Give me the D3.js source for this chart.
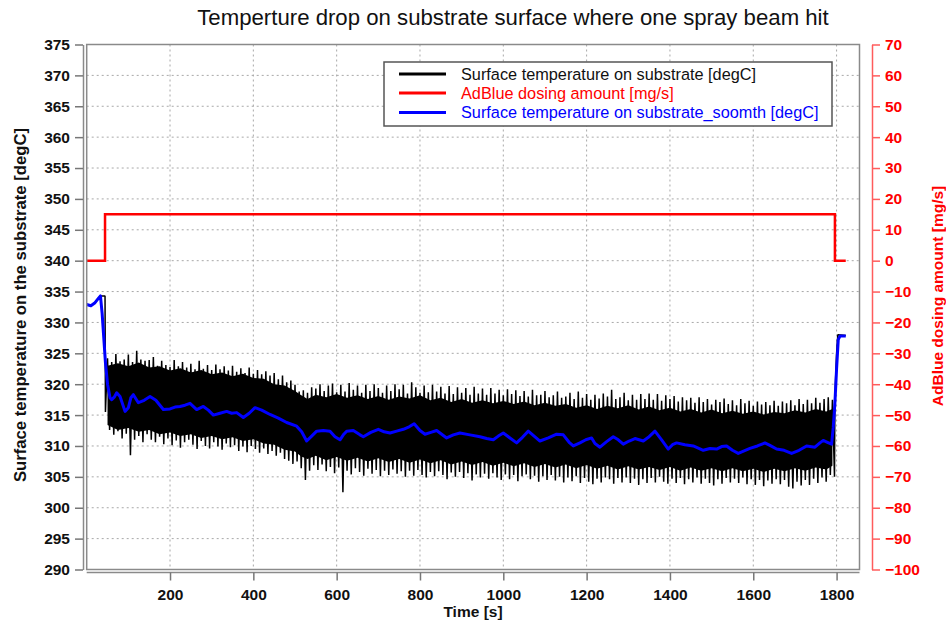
<!DOCTYPE html>
<html>
<head>
<meta charset="utf-8">
<script src="https://cdn.jsdelivr.net/npm/d3@7"></script>
<style>
  body { margin: 0; background: #fff; }
  svg { font-family: "Liberation Sans", Arial, sans-serif; }
  .tick line { stroke-width: 1.5; }
</style>
</head>
<body>
<script>
// ---- data ----
var titulo = 'Temperture drop on substrate surface where one spray beam hit'
var nombresSeries = ['Surface temperature on substrate [degC]',
                     'AdBlue dosing amount [mg/s]',
                     'Surface temperature on substrate_soomth [degC]']

var ticksX = [200, 400, 600, 800, 1000, 1200, 1400, 1600, 1800]
var ticksIzq = [290, 295, 300, 305, 310, 315, 320, 325, 330, 335, 340, 345, 350, 355, 360, 365, 370, 375]
var ticksDcho = [-100, -90, -80, -70, -60, -50, -40, -30, -20, -10, 0, 10, 20, 30, 40, 50, 60, 70]

// AdBlue dosing (right axis)
var dosisT = [0, 44, 44, 1796, 1796, 1822]
var dosisV = [0, 0, 15, 15, 0, 0]

// smoothed temperature
var suaveT = [0, 10, 20, 28, 33, 37, 41, 45, 50, 56, 60, 66, 72, 80, 92, 100, 106, 112, 124, 138, 152, 166, 184, 200, 212, 224, 236, 248, 264, 280, 292, 304, 320, 336, 348, 360, 376, 390, 404, 420, 440, 460, 480, 504, 516, 528, 540, 552, 568, 584, 596, 608, 616, 624, 640, 656, 664, 682, 700, 714, 728, 744, 760, 774, 786, 800, 812, 826, 840, 852, 864, 880, 896, 920, 944, 960, 976, 988, 1000, 1016, 1032, 1046, 1060, 1074, 1088, 1108, 1128, 1144, 1158, 1168, 1184, 1198, 1212, 1220, 1232, 1248, 1264, 1276, 1288, 1302, 1316, 1336, 1350, 1364, 1380, 1396, 1406, 1416, 1436, 1456, 1480, 1496, 1512, 1524, 1536, 1550, 1564, 1578, 1592, 1610, 1628, 1640, 1656, 1674, 1692, 1710, 1728, 1748, 1760, 1768, 1778, 1788, 1792, 1796, 1800, 1804, 1808, 1822]
var suaveV = [332.9, 332.7, 333.2, 333.9, 334.3, 331.5, 327.5, 323.5, 320.0, 317.8, 317.5, 317.9, 318.6, 318.0, 315.6, 316.2, 317.8, 318.3, 317.0, 317.4, 318.0, 317.4, 315.9, 316.0, 316.3, 316.4, 316.6, 316.9, 315.9, 316.4, 315.8, 315.0, 315.3, 315.6, 315.3, 315.4, 314.6, 315.3, 316.2, 315.8, 315.1, 314.5, 313.8, 313.2, 312.3, 310.8, 311.6, 312.4, 312.5, 312.4, 311.5, 311.0, 311.8, 312.4, 312.5, 311.8, 311.5, 312.2, 312.7, 312.3, 312.1, 312.4, 312.7, 313.1, 313.6, 312.5, 311.9, 312.2, 312.5, 311.9, 311.3, 311.8, 312.1, 311.8, 311.5, 311.2, 311.0, 311.6, 312.1, 311.3, 310.5, 311.4, 312.4, 311.6, 310.8, 311.3, 311.9, 311.8, 310.6, 310.0, 310.5, 311.0, 311.3, 310.4, 309.8, 310.7, 311.5, 311.0, 310.3, 310.8, 311.2, 310.8, 311.5, 312.4, 311.0, 309.5, 310.2, 310.5, 310.2, 310.0, 309.3, 309.6, 309.5, 309.9, 310.0, 309.3, 308.8, 309.2, 309.6, 310.0, 310.5, 310.1, 309.5, 309.3, 308.8, 309.3, 310.0, 309.8, 310.5, 310.9, 310.6, 310.3, 313.0, 317.0, 322.5, 327.2, 327.8, 327.8]

// raw temperature
// flat start and drop when dosing starts
var crudoIniT = [0, 10, 20, 28, 33, 44, 45]
var crudoIniV = [332.9, 332.7, 333.2, 333.9, 334.3, 334.3, 315.5]
// solid core of the noisy signal
var nucleoT = [50, 75, 100, 125, 150, 175, 200, 225, 250, 275, 300, 325, 350, 375, 400, 425, 450, 475, 500, 515, 530, 550, 575, 600, 625, 650, 675, 700, 725, 750, 775, 800, 825, 850, 875, 900, 925, 950, 975, 1000, 1025, 1050, 1075, 1100, 1125, 1150, 1175, 1200, 1225, 1250, 1275, 1300, 1325, 1350, 1375, 1400, 1425, 1450, 1475, 1500, 1525, 1550, 1575, 1600, 1625, 1650, 1675, 1700, 1725, 1750, 1775, 1790]
var nucleoMax = [323.0, 323.4, 322.9, 323.5, 322.7, 322.9, 322.2, 322.6, 321.9, 322.3, 321.6, 321.9, 321.3, 321.7, 321.0, 320.9, 320.0, 319.8, 318.9, 318.2, 317.6, 318.3, 317.9, 318.4, 317.8, 318.2, 317.6, 318.1, 317.5, 318.0, 317.7, 318.2, 317.4, 317.8, 317.1, 317.6, 317.0, 317.4, 316.9, 317.3, 316.8, 317.2, 316.6, 317.0, 316.5, 316.8, 316.2, 316.6, 316.0, 316.5, 316.1, 316.6, 315.9, 316.4, 315.8, 316.2, 315.6, 316.0, 315.4, 315.9, 315.3, 315.7, 315.2, 315.6, 315.1, 315.5, 315.3, 315.8, 315.4, 316.0, 315.6, 316.0]
var nucleoMin = [313.4, 312.6, 312.9, 312.3, 312.6, 311.9, 312.2, 311.6, 311.9, 311.3, 311.6, 311.1, 311.4, 310.8, 311.1, 310.4, 310.2, 309.4, 309.1, 308.3, 307.9, 308.4, 307.7, 308.2, 307.6, 308.1, 307.5, 308.0, 307.4, 307.9, 307.3, 307.8, 307.2, 307.7, 307.0, 307.5, 306.9, 307.4, 306.8, 307.3, 306.7, 307.2, 306.6, 307.1, 306.5, 307.0, 306.4, 306.9, 306.3, 306.8, 306.2, 306.7, 306.2, 306.6, 306.1, 306.6, 306.0, 306.5, 306.0, 306.4, 305.9, 306.4, 305.9, 306.3, 305.8, 306.3, 305.9, 306.4, 306.0, 306.5, 306.2, 306.8]
// spikes: max / min of every 10 s from 50 s
var picoInicio = 50, picoPaso = 10
var picoMax = [
  324.2, 323.6, 324.9, 323.7, 324.0, 324.8, 323.6, 325.4, 324.0, 323.8,
  323.9, 324.4, 323.0, 323.8, 323.1, 322.8, 323.9, 322.9, 323.6, 322.7,
  323.3, 322.4, 323.8, 322.5, 323.1, 322.3, 323.2, 322.4, 322.9, 322.2,
  323.0, 322.0, 322.6, 321.8, 322.7, 321.7, 322.3, 321.6, 322.1, 321.4,
  321.8, 320.8, 321.4, 320.3, 320.6, 319.9, 318.8, 319.0, 318.6, 319.5,
  319.3, 320.0, 318.9, 319.8, 320.1, 318.7, 319.9, 318.8, 320.2, 319.1,
  319.8, 318.6, 319.9, 318.9, 320.0, 319.4, 318.6, 319.8, 318.9, 320.0,
  319.2, 319.9, 318.5, 320.3, 319.5, 318.6, 319.8, 318.7, 319.9, 318.8,
  319.6, 318.5, 319.7, 318.4, 319.5, 318.6, 319.4, 318.3, 319.6, 318.5,
  319.3, 318.3, 319.4, 318.5, 319.1, 318.2, 319.2, 318.4, 319.0, 318.1,
  318.9, 318.0, 319.1, 318.2, 318.3, 318.9, 317.9, 318.2, 318.8, 317.8,
  318.0, 318.6, 317.6, 318.8, 317.8, 318.4, 317.5, 318.3, 317.7, 318.5,
  318.0, 319.1, 317.6, 317.9, 318.6, 317.4, 318.3, 317.5, 318.4, 317.6,
  318.5, 317.5, 318.4, 317.3, 318.2, 317.6, 318.1, 317.2, 317.9, 317.4,
  317.8, 317.0, 317.9, 317.1, 317.6, 316.7, 317.5, 317.1, 317.7, 316.8,
  317.4, 316.6, 317.6, 316.9, 317.3, 316.5, 317.2, 316.7, 317.1, 316.6,
  317.3, 316.5, 317.2, 316.9, 317.4, 316.6, 317.6, 316.8, 317.5, 316.9,
  317.8, 317.0, 317.6, 317.9, 317.5]
var picoMin = [
  312.6, 311.8, 312.4, 311.2, 312.0, 308.5, 311.0, 311.6, 310.6, 311.9,
  311.0, 310.6, 311.5, 310.3, 311.2, 310.1, 310.9, 309.7, 310.6, 311.0,
  310.2, 309.5, 310.8, 310.0, 309.6, 310.6, 309.9, 309.4, 310.4, 309.8,
  310.1, 309.2, 309.9, 309.0, 310.0, 309.5, 308.9, 309.6, 308.7, 309.2,
  308.4, 308.9, 307.9, 307.6, 307.1, 307.5, 306.4, 304.5, 306.0, 306.9,
  306.1, 307.0, 305.9, 306.6, 305.6, 306.5, 302.5, 306.0, 305.4, 306.4,
  305.8, 305.2, 306.3, 305.5, 306.1, 305.1, 306.0, 305.3, 306.2, 305.5,
  305.9, 305.0, 306.0, 305.2, 306.1, 305.3, 304.9, 305.8, 305.1, 305.9,
  305.3, 304.6, 305.7, 305.0, 305.8, 304.8, 305.6, 304.4, 305.4, 304.9,
  305.5, 304.7, 305.6, 304.9, 304.5, 305.4, 304.6, 305.3, 304.3, 305.1,
  305.4, 304.6, 305.2, 304.2, 305.1, 304.5, 305.3, 304.4, 305.0, 304.1,
  304.9, 304.3, 305.1, 304.0, 304.8, 304.2, 303.8, 304.7, 304.1, 304.9,
  304.6, 303.9, 304.8, 304.1, 304.9, 304.0, 304.7, 303.7, 304.6, 304.0,
  304.8, 304.1, 305.0, 304.2, 303.9, 304.7, 304.0, 304.8, 303.8, 304.6,
  304.1, 304.9, 303.9, 304.7, 304.0, 303.6, 304.6, 303.9, 304.8, 304.1,
  304.7, 304.0, 304.9, 303.8, 304.6, 303.7, 304.5, 303.5, 304.4, 303.9,
  304.6, 303.8, 304.5, 303.4, 303.1, 304.2, 303.6, 304.5, 303.7, 304.7,
  304.0, 304.9, 304.2, 305.3, 305.0]
// fast rise when dosing stops
var crudoFinT = [1796, 1800, 1803, 1822]
var crudoFinV = [318.0, 325.0, 328.0, 327.9]

// ---- layout ----
var anchoSvg = 946,
    altoSvg = 624,
    area = {izq: 86.7, dcho: 859.5, sup: 44.5, inf: 569.5}

var svg = d3.select('body')
    .append('svg')
    .attr('width', anchoSvg)
    .attr('height', altoSvg)

var escalaX = d3.scaleLinear().domain([0, 1855]).range([area.izq, area.dcho])
var escalaY = d3.scaleLinear().domain([290, 375]).range([area.inf, area.sup])
var escalaY2 = d3.scaleLinear().domain([-100, 70]).range([area.inf, area.sup])

// grid
var rejilla = svg.append('g')
    .attr('stroke', '#a8a8a8')
    .attr('stroke-width', 1)
    .attr('stroke-dasharray', '2,3')
rejilla.selectAll('.gx')
    .data(ticksX)
    .enter()
    .append('line')
    .attr('x1', d => escalaX(d)).attr('x2', d => escalaX(d))
    .attr('y1', area.sup).attr('y2', area.inf)
rejilla.selectAll('.gy')
    .data(ticksIzq.filter(d => d > 290 && d < 375))
    .enter()
    .append('line')
    .attr('x1', area.izq).attr('x2', area.dcho)
    .attr('y1', d => escalaY(d)).attr('y2', d => escalaY(d))

// series
var linea = d3.line().x(d => escalaX(d[0])).y(d => escalaY(d[1]))
var linea2 = d3.line().x(d => escalaX(d[0])).y(d => escalaY2(d[1]))
var nucleo = d3.area()
    .x((d, i) => escalaX(d))
    .y0((d, i) => escalaY(nucleoMin[i]))
    .y1((d, i) => escalaY(nucleoMax[i]))

var puntosCrudo = crudoIniT.map((t, i) => [t, crudoIniV[i]])
picoMax.forEach((v, i) => {
    var t = picoInicio + i * picoPaso
    puntosCrudo.push([t, v])
    puntosCrudo.push([t + picoPaso / 2, picoMin[i]])
})
crudoFinT.forEach((t, i) => puntosCrudo.push([t, crudoFinV[i]]))

var graf = svg.append('g').attr('fill', 'none')

graf.append('path')
    .attr('d', linea2(dosisT.map((t, i) => [t, dosisV[i]])))
    .attr('stroke', '#ff0000')
    .attr('stroke-width', 2.5)

graf.append('path')
    .attr('d', nucleo(nucleoT))
    .attr('fill', '#000')

graf.append('path')
    .attr('d', linea(puntosCrudo))
    .attr('stroke', '#000')
    .attr('stroke-width', 1.5)
    .attr('stroke-linejoin', 'bevel')

graf.append('path')
    .attr('d', linea(suaveT.map((t, i) => [t, suaveV[i]])))
    .attr('stroke', '#0000ff')
    .attr('stroke-width', 3)
    .attr('stroke-linejoin', 'round')

// frame
svg.append('rect')
    .attr('x', area.izq).attr('y', area.sup)
    .attr('width', area.dcho - area.izq).attr('height', area.inf - area.sup)
    .attr('fill', 'none')
    .attr('stroke', '#8a8a8a')
    .attr('stroke-width', 1.5)

// axes
var formato = d3.format('d')
var ejeIzq = svg.append('g')
    .attr('transform', 'translate(83,0)')
    .call(d3.axisLeft(escalaY).tickValues(ticksIzq).tickFormat(formato).tickSize(8).tickSizeOuter(0).tickPadding(5))
var ejeX = svg.append('g')
    .attr('transform', 'translate(0,572.5)')
    .call(d3.axisBottom(escalaX).tickValues(ticksX).tickFormat(formato).tickSize(8).tickSizeOuter(0).tickPadding(8))
var ejeDcho = svg.append('g')
    .attr('transform', 'translate(872,0)')
    .call(d3.axisRight(escalaY2).tickValues(ticksDcho).tickFormat(formato).tickSize(8).tickSizeOuter(0).tickPadding(5))

;[ejeIzq, ejeX].forEach(e => {
    e.select('.domain').attr('stroke', '#8a8a8a').attr('stroke-width', 1.5)
    e.selectAll('.tick line').attr('stroke', '#777')
    e.selectAll('text').attr('fill', '#111')
})
ejeX.select('.domain').attr('d', 'M' + area.izq + ',0H' + area.dcho)
ejeDcho.select('.domain').attr('stroke', '#ff5c5c').attr('stroke-width', 1.5)
ejeDcho.selectAll('.tick line').attr('stroke', '#ff5c5c')
ejeDcho.selectAll('text').attr('fill', '#ff0000')
svg.selectAll('.tick text')
    .attr('font-size', '15.5px')
    .attr('font-weight', 'bold')
    .attr('font-family', '"Liberation Sans", Arial, sans-serif')

// titles
svg.append('text')
    .text(titulo)
    .attr('x', 513).attr('y', 25)
    .attr('text-anchor', 'middle')
    .attr('font-size', '22.2px')
    .attr('fill', '#111')

svg.append('text')
    .text('Time [s]')
    .attr('x', 473).attr('y', 617)
    .attr('text-anchor', 'middle')
    .attr('font-size', '15.5px')
    .attr('font-weight', 'bold')
    .attr('fill', '#111')

svg.append('text')
    .text('Surface temperature on the substrate [degC]')
    .attr('transform', 'translate(25.5,305) rotate(-90)')
    .attr('text-anchor', 'middle')
    .attr('font-size', '16.7px')
    .attr('font-weight', 'bold')
    .attr('fill', '#111')

svg.append('text')
    .text('AdBlue dosing amount [mg/s]')
    .attr('transform', 'translate(943,296) rotate(-90)')
    .attr('text-anchor', 'middle')
    .attr('font-size', '15.5px')
    .attr('font-weight', 'bold')
    .attr('fill', '#ff0000')

// legend
var colores = ['#000', '#ff0000', '#0000ff']
var leyenda = svg.append('g')
leyenda.append('rect')
    .attr('x', 384).attr('y', 62)
    .attr('width', 448).attr('height', 64)
    .attr('fill', '#fff')
    .attr('stroke', '#555')
    .attr('stroke-width', 1.5)
var filas = leyenda.selectAll('.fila')
    .data(nombresSeries)
    .enter()
    .append('g')
    .attr('transform', (d, i) => 'translate(0,' + [74, 93, 112.5][i] + ')')
filas.append('line')
    .attr('x1', 399).attr('x2', 446)
    .attr('stroke', (d, i) => colores[i])
    .attr('stroke-width', 3)
filas.append('text')
    .text(d => d)
    .attr('x', 461).attr('y', 5.5)
    .attr('font-size', '16.3px')
    .attr('fill', (d, i) => i == 0 ? '#111' : colores[i])
</script>
</body>
</html>
